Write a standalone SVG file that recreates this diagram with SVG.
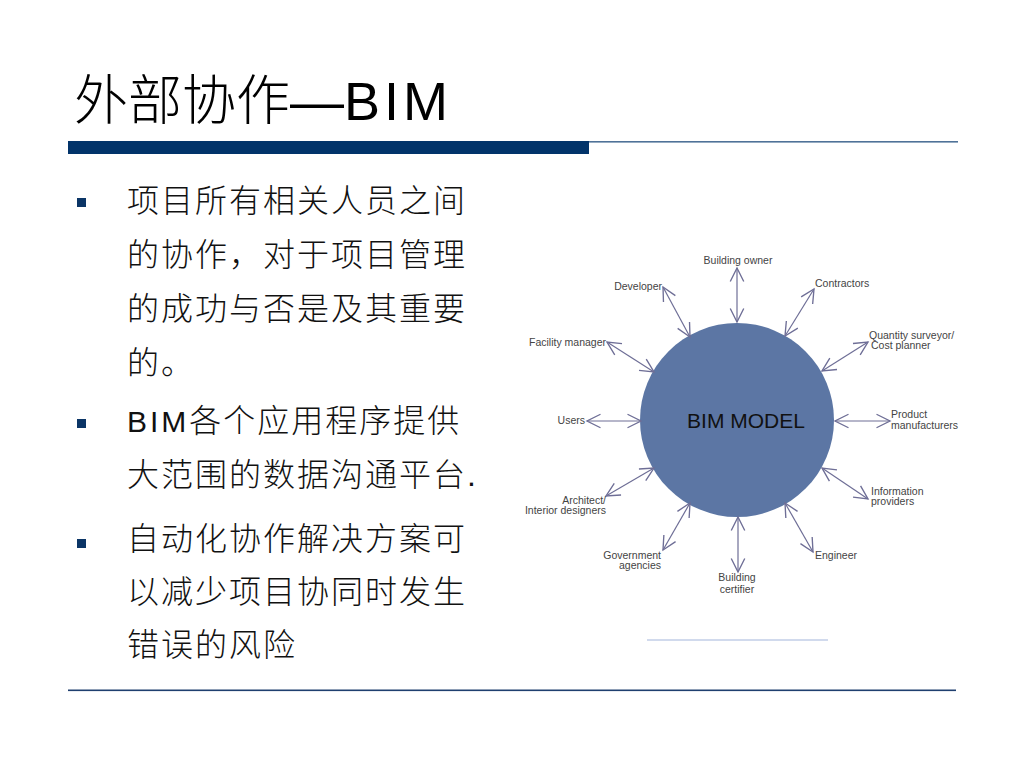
<svg xmlns="http://www.w3.org/2000/svg" width="1024" height="768" viewBox="0 0 1024 768">
<style>
.title{font-family:"Liberation Sans","Noto Sans CJK SC",sans-serif;font-size:54px;fill:#000;font-weight:300}
.body{font-family:"Liberation Sans","Noto Sans CJK SC",sans-serif;font-size:32px;fill:#111;letter-spacing:2px;font-weight:300}
.lbl{font-family:"Liberation Sans",Arial,sans-serif;font-size:10.5px;fill:#444}
.conn line{stroke:#6e6e96;stroke-width:1.2;fill:none;marker-start:url(#ah);marker-end:url(#ah)}
.bullet{fill:#0b3566}
</style>
<defs>
<marker id="ah" markerUnits="userSpaceOnUse" markerWidth="18" markerHeight="18" viewBox="-14 -8 16 16" refX="0" refY="0" orient="auto-start-reverse">
<path d="M-12,-6 L0,0 L-12,6" fill="none" stroke="#6e6e96" stroke-width="1.2"/>
</marker>
</defs>
<rect width="1024" height="768" fill="#fff"/>

<g id="title">
<text class="title" x="74" y="120">外部协作—<tspan letter-spacing="4">BIM</tspan></text>
<rect x="68" y="141" width="521" height="13" fill="#02346a"/>
<rect x="589" y="141" width="369" height="1.6" fill="#4f7298"/>
</g>

<g id="bullets">
<rect class="bullet" x="77" y="198" width="9" height="9"/>
<text class="body" x="127" y="212">项目所有相关人员之间</text>
<text class="body" x="127" y="266">的协作，对于项目管理</text>
<text class="body" x="127" y="320">的成功与否是及其重要</text>
<text class="body" x="127" y="374">的。</text>
<rect class="bullet" x="77" y="419" width="9" height="9"/>
<text class="body" x="127" y="432"><tspan font-size="30" letter-spacing="3">BIM</tspan>各个应用程序提供</text>
<text class="body" x="127" y="486">大范围的数据沟通平台.</text>
<rect class="bullet" x="77" y="539" width="9" height="9"/>
<text class="body" x="127" y="550">自动化协作解决方案可</text>
<text class="body" x="127" y="603">以减少项目协同时发生</text>
<text class="body" x="127" y="656">错误的风险</text>
</g>

<g id="bim-model">
<circle cx="737" cy="420" r="97" fill="#5c76a4"/>
<text x="746" y="428" text-anchor="middle" font-family="Liberation Sans,Arial,sans-serif" font-size="21" fill="#111">BIM MODEL</text>
</g>

<g id="connectors" class="conn">
<line x1="737" y1="268" x2="737" y2="322"/>
<line x1="663" y1="287" x2="690" y2="337"/>
<line x1="814" y1="289" x2="785" y2="336"/>
<line x1="868" y1="342" x2="822" y2="371"/>
<line x1="607" y1="342" x2="654" y2="372"/>
<line x1="587" y1="421" x2="641" y2="421"/>
<line x1="890" y1="421" x2="835" y2="421"/>
<line x1="606" y1="496" x2="654" y2="468"/>
<line x1="868" y1="499" x2="822" y2="468"/>
<line x1="663" y1="550" x2="690" y2="503"/>
<line x1="738" y1="572" x2="738" y2="517"/>
<line x1="813" y1="552" x2="785" y2="503"/>
</g>

<g id="n-building-owner"><text class="lbl" x="738" y="264" text-anchor="middle">Building owner</text></g>
<g id="n-developer"><text class="lbl" x="662" y="290" text-anchor="end">Developer</text></g>
<g id="n-contractors"><text class="lbl" x="815" y="287">Contractors</text></g>
<g id="n-quantity"><text class="lbl" x="869" y="339">Quantity surveyor/</text><text class="lbl" x="871" y="349">Cost planner</text></g>
<g id="n-facility"><text class="lbl" x="606" y="346" text-anchor="end">Facility manager</text></g>
<g id="n-users"><text class="lbl" x="585" y="424" text-anchor="end">Users</text></g>
<g id="n-product"><text class="lbl" x="891" y="418">Product</text><text class="lbl" x="891" y="429">manufacturers</text></g>
<g id="n-architect"><text class="lbl" x="606" y="504" text-anchor="end">Architect/</text><text class="lbl" x="606" y="514" text-anchor="end">Interior designers</text></g>
<g id="n-information"><text class="lbl" x="871" y="495">Information</text><text class="lbl" x="871" y="505">providers</text></g>
<g id="n-government"><text class="lbl" x="661" y="559" text-anchor="end">Government</text><text class="lbl" x="661" y="569" text-anchor="end">agencies</text></g>
<g id="n-certifier"><text class="lbl" x="737" y="581" text-anchor="middle">Building</text><text class="lbl" x="737" y="593" text-anchor="middle">certifier</text></g>
<g id="n-engineer"><text class="lbl" x="815" y="559">Engineer</text></g>

<rect x="647" y="639.5" width="181" height="1" fill="#a4b6dc"/>
<rect x="68" y="689.5" width="888" height="1.6" fill="#1f3f6f"/>
</svg>
